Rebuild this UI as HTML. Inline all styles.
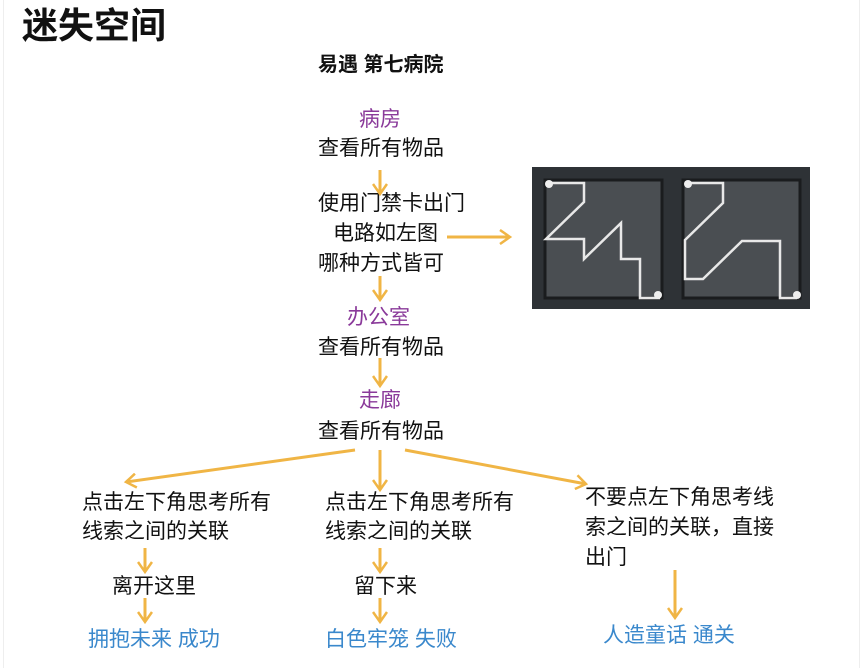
<!DOCTYPE html>
<html><head><meta charset="utf-8"><style>
body{margin:0;width:864px;height:668px;background:#fff;position:relative;overflow:hidden;font-family:"Liberation Sans","Noto Sans CJK SC",sans-serif;}
.t{position:absolute;white-space:nowrap;font-size:21px;color:#111;line-height:24px;}
.p{color:#8a3a9a}.b{color:#3a88cc}
</style></head><body>
<div style="position:absolute;left:3px;top:0;width:1px;height:668px;background:#eee"></div>
<div style="position:absolute;left:859px;top:0;width:1px;height:668px;background:#eee"></div>
<div class="t" style="left:22px;top:5px;font-size:36px;line-height:42px;font-weight:bold">迷失空间</div>
<div class="t" style="left:318px;top:53px;font-size:20px;font-weight:bold">易遇 第七病院</div>
<div class="t p" style="left:359px;top:108px">病房</div>
<div class="t" style="left:318px;top:137px">查看所有物品</div>
<div class="t" style="left:318px;top:192px">使用门禁卡出门</div>
<div class="t" style="left:333px;top:222px">电路如左图</div>
<div class="t" style="left:318px;top:252px">哪种方式皆可</div>
<div class="t p" style="left:347px;top:306px">办公室</div>
<div class="t" style="left:318px;top:336px">查看所有物品</div>
<div class="t p" style="left:359px;top:389px">走廊</div>
<div class="t" style="left:318px;top:420px">查看所有物品</div>
<div class="t" style="left:82px;top:491px">点击左下角思考所有</div>
<div class="t" style="left:82px;top:520px">线索之间的关联</div>
<div class="t" style="left:112px;top:575px">离开这里</div>
<div class="t b" style="left:88px;top:628px">拥抱未来 成功</div>
<div class="t" style="left:325px;top:491px">点击左下角思考所有</div>
<div class="t" style="left:325px;top:520px">线索之间的关联</div>
<div class="t" style="left:354px;top:575px">留下来</div>
<div class="t b" style="left:325px;top:628px">白色牢笼 失败</div>
<div class="t" style="left:585px;top:486px">不要点左下角思考线</div>
<div class="t" style="left:585px;top:516px">索之间的关联，直接</div>
<div class="t" style="left:585px;top:546px">出门</div>
<div class="t b" style="left:603px;top:624px">人造童话 通关</div>
<svg width="864" height="668" style="position:absolute;left:0;top:0">
<defs><marker id="a" markerWidth="14" markerHeight="16" refX="11" refY="8" orient="auto" markerUnits="userSpaceOnUse"><path d="M1,1 L11,8 L1,15" fill="none" stroke="#f0b545" stroke-width="2.5"/></marker></defs>
<g stroke="#f0b545" stroke-width="3" fill="none" marker-end="url(#a)">
<line x1="380" y1="170" x2="380" y2="194"/>
<line x1="380" y1="276" x2="380" y2="300"/>
<line x1="380" y1="358" x2="380" y2="386"/>
<line x1="447" y1="237" x2="510" y2="237"/>
<line x1="355" y1="450" x2="126" y2="482"/>
<line x1="380" y1="450" x2="380" y2="490"/>
<line x1="405" y1="450" x2="586" y2="484"/>
<line x1="145" y1="548" x2="145" y2="572"/>
<line x1="145" y1="598" x2="145" y2="622"/>
<line x1="380" y1="548" x2="380" y2="572"/>
<line x1="380" y1="598" x2="380" y2="622"/>
<line x1="675" y1="570" x2="675" y2="618"/>
</g>
<rect x="532" y="167" width="278" height="142" fill="#2e3236"/>
<rect x="545" y="180" width="117" height="118" fill="#4a4e52" stroke="#1a1c1e" stroke-width="3"/>
<rect x="683" y="180" width="117" height="118" fill="#4a4e52" stroke="#1a1c1e" stroke-width="3"/>
<g stroke="#e8e8e8" stroke-width="2.5" fill="none">
<polyline points="549,183 584,183 584,202 546,239 584,239 584,259 621,223 621,259 640,259 640,298 660,298"/>
<polyline points="688,183 723,183 723,203 685,240 685,279 703,279 742,241 780,241 780,298 797,298"/>
</g>
<circle cx="549" cy="184" r="4" fill="#eee"/><circle cx="658" cy="295" r="4" fill="#eee"/>
<circle cx="688" cy="184" r="4" fill="#eee"/><circle cx="797" cy="295" r="4" fill="#eee"/>
</svg>
</body></html>
